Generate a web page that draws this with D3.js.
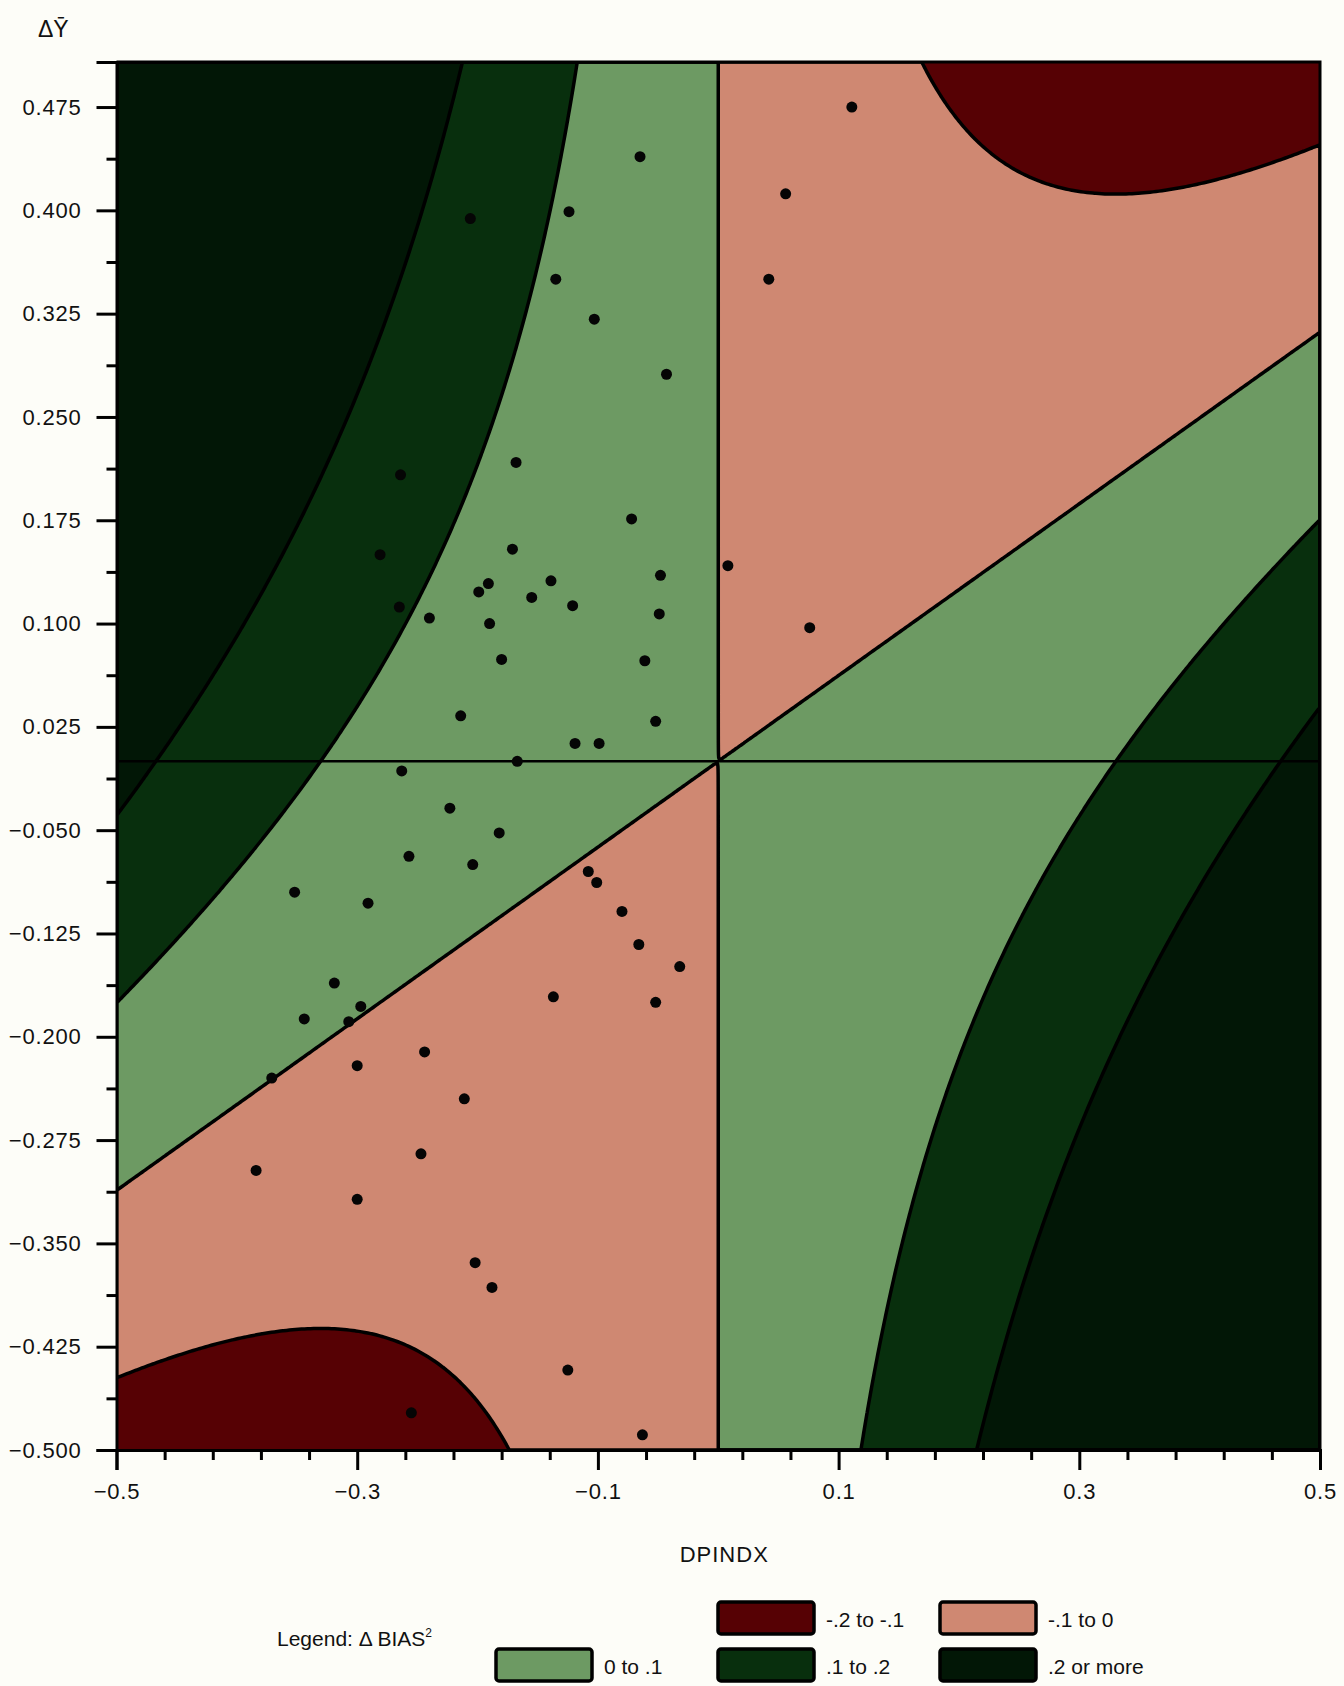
<!DOCTYPE html>
<html lang="en">
<head>
<meta charset="utf-8">
<title>DBIAS2 contour</title>
<script src="https://cdn.jsdelivr.net/npm/d3@7"></script>
<style>
  body { margin: 0; background: #fdfdf8; }
  text { font-family: "Liberation Sans", Arial, sans-serif; fill: #111; }
</style>
</head>
<body>
<script>
// contour surface: dBIAS2 = A*x^2 + B*x*y  (x = DPINDX, y = dYbar)
var surfaceCoef = [0.916, -1.47];
var levels = [-0.2, -0.1, 0, 0.1, 0.2];
var levelColors = ["#560104", "#cf8872", "#6d9a63", "#082f0d", "#021706"];
var legendLabels = ["-.2 to -.1", "-.1 to 0", "0 to .1", ".1 to .2", ".2 or more"];

var xTicks = [-0.5, -0.3, -0.1, 0.1, 0.3, 0.5];
var xMinor = [-0.46, -0.42, -0.38, -0.34, -0.26, -0.22, -0.18, -0.14, -0.06, -0.02, 0.02, 0.06,
              0.14, 0.18, 0.22, 0.26, 0.34, 0.38, 0.42, 0.46];
var yTicks = [0.475, 0.4, 0.325, 0.25, 0.175, 0.1, 0.025, -0.05, -0.125, -0.2, -0.275, -0.35, -0.425, -0.5];
var yMinor = [0.4375, 0.3625, 0.2875, 0.2125, 0.1375, 0.0625, -0.0125, -0.0875, -0.1625, -0.2375,
              -0.3125, -0.3875, -0.4625];

// observations
var dpindx = [0.111, -0.065, 0.056, -0.124, -0.206, -0.135, 0.042, -0.103, -0.043, -0.168,
              -0.264, -0.072, -0.171, -0.281, 0.008, -0.048, -0.139, -0.191, -0.199, -0.155,
              -0.121, -0.240, -0.190, -0.049, -0.265, 0.076, -0.180, -0.061, -0.214, -0.052,
              -0.119, -0.099, -0.167, -0.263, -0.223, -0.182, -0.257, -0.204, -0.108, -0.101,
              -0.352, -0.291, -0.080, -0.066, -0.032, -0.319, -0.137, -0.052, -0.297, -0.344,
              -0.307, -0.244, -0.300, -0.371, -0.211, -0.247, -0.384, -0.300, -0.202, -0.188,
              -0.125, -0.255, -0.063];
var dybar = [0.475, 0.439, 0.412, 0.399, 0.394, 0.350, 0.350, 0.321, 0.281, 0.217,
             0.208, 0.176, 0.154, 0.150, 0.142, 0.135, 0.131, 0.129, 0.123, 0.119,
             0.113, 0.104, 0.100, 0.107, 0.112, 0.097, 0.074, 0.073, 0.033, 0.029,
             0.013, 0.013, 0.000, -0.007, -0.034, -0.052, -0.069, -0.075, -0.080, -0.088,
             -0.095, -0.103, -0.109, -0.133, -0.149, -0.161, -0.171, -0.175, -0.178, -0.187,
             -0.189, -0.211, -0.221, -0.230, -0.245, -0.285, -0.297, -0.318, -0.364, -0.382,
             -0.442, -0.473, -0.489];

var W = 1344, H = 1686;
var pLeft = 116.5, pRight = 1320, pTop = 62, pBottom = 1450;
var xDom = [-0.5, 0.5], yDom = [-0.5, 0.5077];

var x = d3.scaleLinear().domain(xDom).range([pLeft, pRight]);
var y = d3.scaleLinear().domain(yDom).range([pBottom, pTop]);

var svg = d3.select("body").append("svg")
    .attr("width", W).attr("height", H);

svg.append("defs").append("clipPath").attr("id", "plotclip")
  .append("rect").attr("x", pLeft).attr("y", pTop)
  .attr("width", pRight - pLeft).attr("height", pBottom - pTop);

// sample the surface on a grid (cell centres)
var nx = 400, ny = 460;
var values = new Float64Array(nx * ny);
for (var j = 0; j < ny; j++) {
  for (var i = 0; i < nx; i++) {
    var gx = xDom[0] + (i + 0.5) * (xDom[1] - xDom[0]) / nx;
    var gy = yDom[1] - (j + 0.5) * (yDom[1] - yDom[0]) / ny;
    values[j * nx + i] = surfaceCoef[0] * gx * gx + surfaceCoef[1] * gx * gy;
  }
}
var bands = d3.contours().size([nx, ny]).thresholds(levels)(values);

var proj = d3.geoTransform({
  point: function(px, py) {
    this.stream.point(
      x(xDom[0] + px * (xDom[1] - xDom[0]) / nx),
      y(yDom[1] - py * (yDom[1] - yDom[0]) / ny));
  }
});
var path = d3.geoPath(proj);

var plot = svg.append("g").attr("clip-path", "url(#plotclip)");

plot.append("g")
  .selectAll("path").data(bands).enter().append("path")
  .attr("d", path)
  .attr("fill", function(d, k) { return levelColors[k]; });

plot.append("g").selectAll("path").data(bands.slice(1)).enter().append("path")
  .attr("d", path)
  .attr("fill", "none")
  .attr("stroke", "#000")
  .attr("stroke-width", 3.5)
  .attr("stroke-linejoin", "round");

// reference line at dYbar = 0
plot.append("line")
  .attr("x1", pLeft).attr("x2", pRight)
  .attr("y1", y(0)).attr("y2", y(0))
  .attr("stroke", "#000").attr("stroke-width", 2.5);

// observations
plot.append("g").selectAll("circle").data(dpindx).enter().append("circle")
  .attr("cx", function(d) { return x(d); })
  .attr("cy", function(d, k) { return y(dybar[k]); })
  .attr("r", 5.5)
  .attr("fill", "#050505");

// frame top / right
svg.append("path")
  .attr("d", "M" + pLeft + "," + pTop + "H" + pRight + "V" + pBottom)
  .attr("fill", "none").attr("stroke", "#000").attr("stroke-width", 3);

// axes
svg.append("g").attr("transform", "translate(" + pLeft + ",0)")
  .call(d3.axisLeft(y).tickValues(yTicks).tickSize(20).tickPadding(15).tickFormat(d3.format(".3f")));
svg.append("g").attr("transform", "translate(" + pLeft + ",0)")
  .call(d3.axisLeft(y).tickValues(yMinor).tickSize(10).tickFormat(""))
  .select(".domain").remove();

svg.append("g").attr("transform", "translate(0," + pBottom + ")")
  .call(d3.axisBottom(x).tickValues(xTicks).tickSize(20).tickPadding(13).tickFormat(d3.format(".1f")));
svg.append("g").attr("transform", "translate(0," + pBottom + ")")
  .call(d3.axisBottom(x).tickValues(xMinor).tickSize(10).tickFormat(""))
  .select(".domain").remove();

svg.selectAll(".tick line, .domain").attr("stroke", "#000").attr("stroke-width", 3);
svg.selectAll(".tick text").attr("font-size", 22).attr("letter-spacing", 0.8)
  .attr("font-family", "Liberation Sans, Arial, sans-serif").attr("fill", "#111");

// axis titles
svg.append("text").attr("x", 38).attr("y", 37).attr("font-size", 23).text("\u0394\u0232");
svg.append("text").attr("x", x(0) + 6).attr("y", 1562).attr("text-anchor", "middle")
  .attr("font-size", 22).attr("letter-spacing", 1).text("DPINDX");

// legend
var lt = svg.append("text").attr("x", 277).attr("y", 1646).attr("font-size", 21);
lt.append("tspan").text("Legend: \u0394 BIAS");
lt.append("tspan").attr("font-size", 12).attr("dy", -9).text("2");

var legendPos = [[718, 1602], [940, 1602], [496, 1649], [718, 1649], [940, 1649]];
var legendOrder = [0, 1, 2, 3, 4];
var lg = svg.append("g").selectAll("g").data(legendOrder).enter().append("g")
  .attr("transform", function(d, k) { return "translate(" + legendPos[k][0] + "," + legendPos[k][1] + ")"; });
lg.append("rect")
  .attr("width", 96).attr("height", 32).attr("rx", 3)
  .attr("fill", function(d) { return levelColors[d]; })
  .attr("stroke", "#000").attr("stroke-width", 3.5);
lg.append("text")
  .attr("x", 108).attr("y", 25).attr("font-size", 21)
  .text(function(d) { return legendLabels[d]; });
</script>
</body>
</html>
